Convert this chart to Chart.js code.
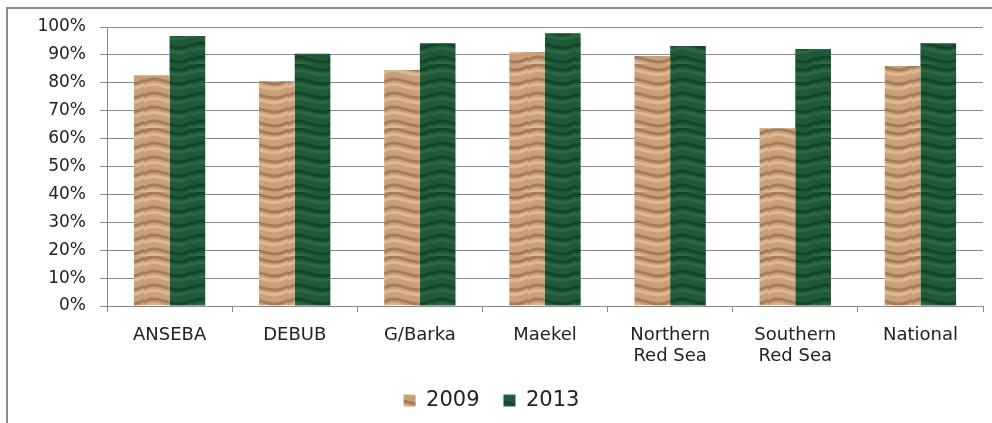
<!DOCTYPE html>
<html>
<head>
<meta charset="utf-8">
<script src="https://cdn.jsdelivr.net/npm/chart.js@4"></script>
<style>
	html, body { margin: 0; padding: 0; background: #fff; }
	#frame {
		position: absolute; left: 6px; top: 7px; width: 1000px; height: 430px;
		border-left: 2px solid #8c8c8c; border-top: 2px solid #8c8c8c;
	}
	#wrap { position: absolute; left: 0; top: 0; width: 992px; height: 423px; }
</style>
</head>
<body>
<div id="frame"></div>
<div id="wrap"><canvas id="regionChart"></canvas></div>
<script>
// Regions along the x axis
const regions = [
	"ANSEBA",
	"DEBUB",
	"G/Barka",
	"Maekel",
	["Northern", "Red Sea"],
	["Southern", "Red Sea"],
	"National",
];
const values2009 = [82.7, 80.6, 84.6, 91.0, 89.6, 63.7, 86.0];
const values2013 = [96.8, 90.4, 94.2, 97.8, 93.2, 92.1, 94.2];
const seriesLabels = ["2009", "2013"];

// Texture fills that look a bit like the crumpled paper / marble in the original
function makeTexture(base, dark, light) {
	const c = document.createElement("canvas");
	c.width = 48;
	c.height = 64;
	const g = c.getContext("2d");
	g.fillStyle = base;
	g.fillRect(0, 0, c.width, c.height);
	g.lineWidth = 3;
	for (let i = -2; i < 6; i++) {
		g.strokeStyle = dark;
		g.beginPath();
		g.moveTo(0, i * 14 + 4);
		g.bezierCurveTo(14, i * 14 - 6, 30, i * 14 + 14, 48, i * 14 + 2);
		g.stroke();
		g.strokeStyle = light;
		g.beginPath();
		g.moveTo(0, i * 14 + 9);
		g.bezierCurveTo(16, i * 14, 28, i * 14 + 18, 48, i * 14 + 7);
		g.stroke();
	}
	return g.createPattern(c, "repeat");
}

function initRegionChart() {
	const ctx = document.getElementById("regionChart").getContext("2d");
	const paper = makeTexture("#c9a07a", "rgba(120,80,45,0.45)", "rgba(245,215,180,0.45)");
	const marble = makeTexture("#1e5a37", "rgba(10,45,25,0.5)", "rgba(70,130,90,0.35)");

	new Chart(ctx, {
		type: "bar",
		data: {
			labels: regions,
			datasets: [
				{
					label: seriesLabels[0],
					data: values2009,
					backgroundColor: paper,
					borderWidth: 0,
				},
				{
					label: seriesLabels[1],
					data: values2013,
					backgroundColor: marble,
					borderWidth: 0,
				},
			],
		},
		options: {
			responsive: true,
			maintainAspectRatio: false,
			animation: false,
			categoryPercentage: 0.57,
			barPercentage: 1.0,
			layout: {
				padding: { top: 27, right: 9, bottom: 2, left: 0 },
			},
			plugins: {
				tooltip: { enabled: false },
				legend: {
					position: "bottom",
					labels: {
						boxWidth: 12,
						boxHeight: 12,
						padding: 24,
						color: "#222",
						font: { family: "DejaVu Sans", size: 21 },
					},
				},
			},
			scales: {
				x: {
					grid: {
						offset: true,
						drawOnChartArea: false,
						tickLength: 6,
						color: "#8c8c8c",
					},
					border: { color: "#8c8c8c" },
					ticks: {
						color: "#222",
						padding: 13,
						maxRotation: 0,
						font: { family: "DejaVu Sans", size: 18, lineHeight: 1.15 },
					},
					afterFit: function (scale) {
						scale.height = 60;
					},
				},
				y: {
					min: 0,
					max: 100,
					ticks: {
						stepSize: 10,
						color: "#222",
						padding: 14,
						font: { family: "DejaVu Sans", size: 17 },
						callback: function (value) {
							return value + "%";
						},
					},
					grid: { color: "#8c8c8c", tickLength: 7 },
					border: { color: "#8c8c8c" },
					afterFit: function (scale) {
						scale.width = 107;
					},
				},
			},
		},
	});
}

document.addEventListener("DOMContentLoaded", initRegionChart);
</script>
</body>
</html>
